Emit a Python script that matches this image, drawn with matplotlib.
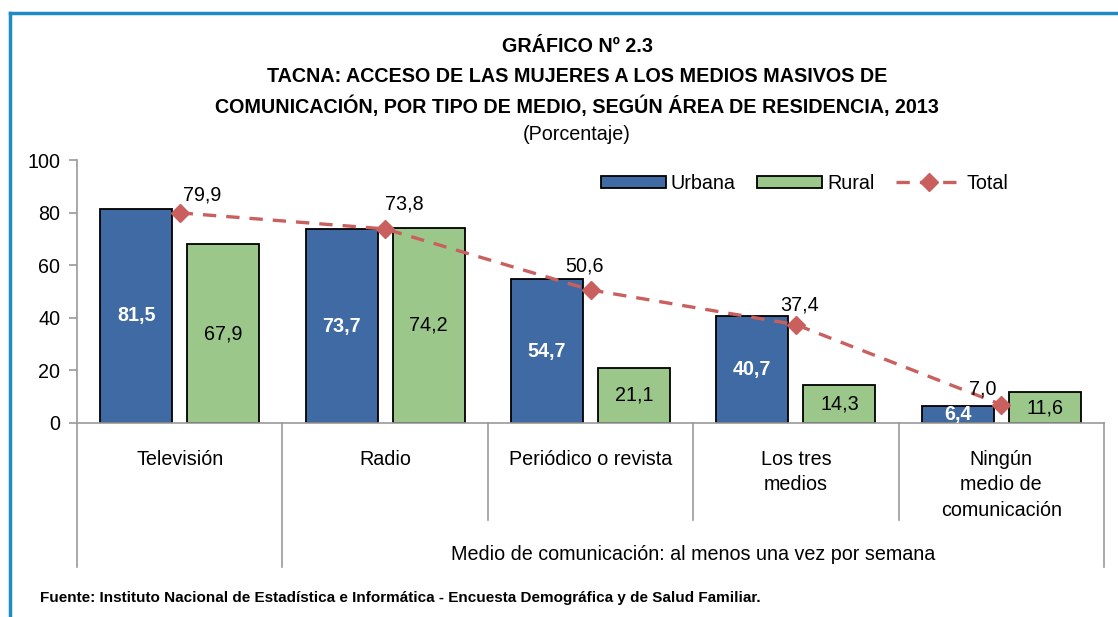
import matplotlib
matplotlib.use("Agg")
import matplotlib.pyplot as plt
from matplotlib.lines import Line2D
import matplotlib.transforms as mtransforms
import numpy as np

categories = ["Televisión", "Radio", "Periódico o revista", "Los tres\nmedios",
              "Ningún\nmedio de\ncomunicación"]
urbana = [81.5, 73.7, 54.7, 40.7, 6.4]
rural = [67.9, 74.2, 21.1, 14.3, 11.6]
total = [79.9, 73.8, 50.6, 37.4, 7.0]
yticks = [0, 20, 40, 60, 80, 100]
group_label = "Medio de comunicación: al menos una vez por semana"
title_lines = ["GRÁFICO Nº 2.3",
               "TACNA: ACCESO DE LAS MUJERES A LOS MEDIOS MASIVOS DE",
               "COMUNICACIÓN, POR TIPO DE MEDIO, SEGÚN ÁREA DE RESIDENCIA, 2013"]
subtitle = "(Porcentaje)"
source = "Fuente: Instituto Nacional de Estadística e Informática - Encuesta Demográfica y de Salud Familiar."

# label offsets (pixels) for Total labels
total_label_offsets = [(22, 18), (19, 25), (-6, 24), (4, 20), (-19, 16)]

def fmt(v):
    return f"{v:.1f}".replace(".", ",")

plt.rcParams['font.family'] = ['Liberation Sans', 'DejaVu Sans']
FS = 14.2

BLUE = "#3F6AA4"
GREEN = "#9BC78A"
RED = "#C9605E"
GRAY = "#9A9A9A"

fig = plt.figure(figsize=(11.18, 6.17), dpi=100)
W, H = 1118, 617
ax = fig.add_axes([77 / W, 1 - 423 / H, (1104 - 77) / W, (423 - 160) / H])

x = np.arange(len(categories))
bw = 0.35
off = 0.212
hb1 = ax.bar(x - off, urbana, bw, color=BLUE, edgecolor="black", linewidth=1.3, label="Urbana", zorder=2)
hb2 = ax.bar(x + off, rural, bw, color=GREEN, edgecolor="black", linewidth=1.3, label="Rural", zorder=2)
hl, = ax.plot(x, total, color=RED, linestyle=(0, (4, 3)), linewidth=2.4, marker="D", markersize=9,
              markeredgecolor=RED, markerfacecolor=RED, label="Total", zorder=3)

for xi, v in zip(x, urbana):
    ax.text(xi - off, v / 2, fmt(v), ha="center", va="center", color="white",
            fontsize=FS, fontweight="bold", zorder=4)
for xi, v in zip(x, rural):
    ax.text(xi + off, v / 2, fmt(v), ha="center", va="center", color="black",
            fontsize=FS, zorder=4)
for xi, v, (dx, dy) in zip(x, total, total_label_offsets):
    ax.annotate(fmt(v), (xi, v), xytext=(dx, dy), textcoords="offset pixels",
                ha="center", va="center", fontsize=FS, color="black", zorder=5)

ax.set_xlim(-0.5, len(categories) - 0.5)
ax.set_ylim(0, 100)
ax.set_yticks(yticks)
ax.set_yticklabels([str(t) for t in yticks], fontsize=FS)
ax.tick_params(axis="y", direction="out", length=6, color=GRAY, width=1.2, pad=6)
ax.set_xticks([])
for s in ["top", "right"]:
    ax.spines[s].set_visible(False)
for s in ["left", "bottom"]:
    ax.spines[s].set_color(GRAY)
    ax.spines[s].set_linewidth(1.2)

trans = mtransforms.blended_transform_factory(ax.transData, ax.transAxes)
ah = 423 - 160
inner_bottom = -(520 - 423) / ah
outer_bottom = -(567 - 423) / ah
n = len(categories)
bounds = np.arange(n + 1) - 0.5
for i, b in enumerate(bounds):
    yb = outer_bottom if i in (0, 1, n) else inner_bottom
    ax.add_line(Line2D([b, b], [0, yb], transform=trans, color=GRAY, linewidth=1.2, clip_on=False))

for xi, lab in zip(x, categories):
    ax.text(xi, -(450 - 423) / ah, lab, transform=trans, ha="center", va="top",
            fontsize=FS, linespacing=1.42)
ax.text((bounds[1] + bounds[-1]) / 2, -(554 - 423) / ah, group_label, transform=trans,
        ha="center", va="center", fontsize=FS)

leg = ax.legend([hb1, hb2, hl], ["Urbana", "Rural", "Total"], loc="upper right",
                bbox_to_anchor=(1016 / W, 1 - 166 / H),
                bbox_transform=fig.transFigure, ncol=3, frameon=False, fontsize=FS,
                handlelength=3.3, handleheight=0.6, columnspacing=1.1, handletextpad=0.25,
                borderaxespad=0)

cx = 577 / W
fig.text(cx, 1 - 47 / H, title_lines[0], ha="center", va="center", fontsize=14.2, fontweight="bold")
fig.text(cx, 1 - 76 / H, title_lines[1], ha="center", va="center", fontsize=14.2, fontweight="bold")
fig.text(cx, 1 - 106 / H, title_lines[2], ha="center", va="center", fontsize=14.2, fontweight="bold")
fig.text(cx, 1 - 135 / H, subtitle, ha="center", va="center", fontsize=FS)
fig.text(40 / W, 1 - 598 / H, source, ha="left", va="center", fontsize=11, fontweight="bold")

FRAME = "#1E8BC3"
fig.add_artist(Line2D([10 / W, 10 / W], [0, 1 - 13 / H], transform=fig.transFigure,
                      color=FRAME, linewidth=2.5))
fig.add_artist(Line2D([10 / W, 1], [1 - 13 / H, 1 - 13 / H], transform=fig.transFigure,
                      color=FRAME, linewidth=2.5))

fig.savefig("out.png", dpi=100)
